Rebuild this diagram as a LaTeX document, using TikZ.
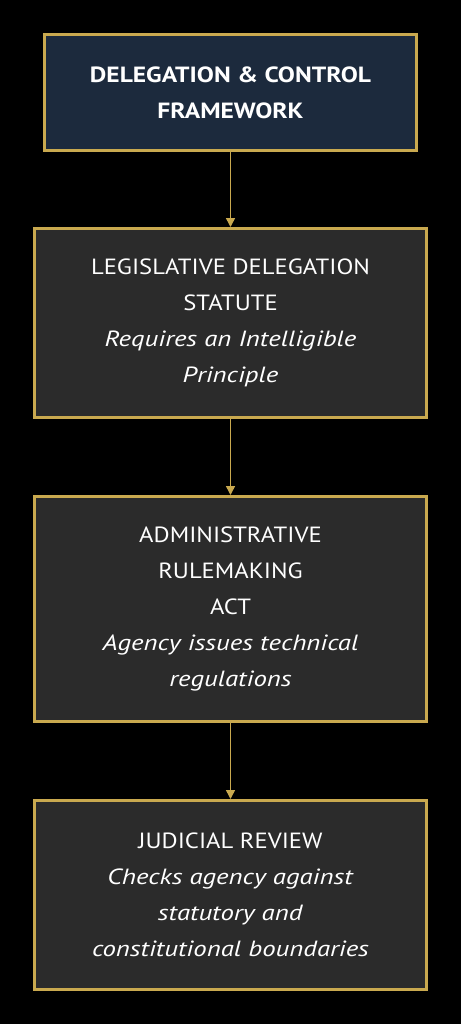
\documentclass[tikz,border=0pt]{standalone}
\usepackage{fontspec}
\setmainfont{PT Sans}[FakeStretch=1.12,BoldFeatures={FakeStretch=1.16},ItalicFeatures={FakeStretch=1.22}]
\usetikzlibrary{arrows.meta}
\definecolor{gold}{HTML}{C9A94F}
\definecolor{navy}{HTML}{1C2A3D}
\definecolor{boxgray}{HTML}{2B2B2B}
\begin{document}
\begin{tikzpicture}[x=1bp,y=-1bp,
  box/.style={draw=gold,line width=3bp,fill=boxgray,minimum width=392bp,inner sep=0pt,
    text=white,align=center,font=\fontsize{22bp}{36bp}\selectfont},
  titlebox/.style={box,fill=navy,minimum width=372bp,font=\bfseries\fontsize{22bp}{36bp}\selectfont},
  conn/.style={draw=gold,line width=1.5bp,-{Triangle[width=9bp,length=9bp]}}]
\fill[black] (0,0) rectangle (461,1024);
\useasboundingbox (0,0) rectangle (461,1024);
\node[titlebox,minimum height=116bp] (t) at (230.5,92.5) {DELEGATION \& CONTROL\\FRAMEWORK};
\node[box,minimum height=189bp] (a) at (230.5,323) {LEGISLATIVE DELEGATION\\STATUTE\\\textit{Requires an Intelligible}\\\textit{Principle}};
\node[box,minimum height=225bp] (b) at (230.5,609) {ADMINISTRATIVE\\RULEMAKING\\ACT\\\textit{Agency issues technical}\\\textit{regulations}};
\node[box,minimum height=189bp] (c) at (230.5,895) {JUDICIAL REVIEW\\\textit{Checks agency against}\\\textit{statutory and}\\\textit{constitutional boundaries}};
\draw[conn] (t.south) -- (a.north);
\draw[conn] (a.south) -- (b.north);
\draw[conn] (b.south) -- (c.north);
\end{tikzpicture}
\end{document}
